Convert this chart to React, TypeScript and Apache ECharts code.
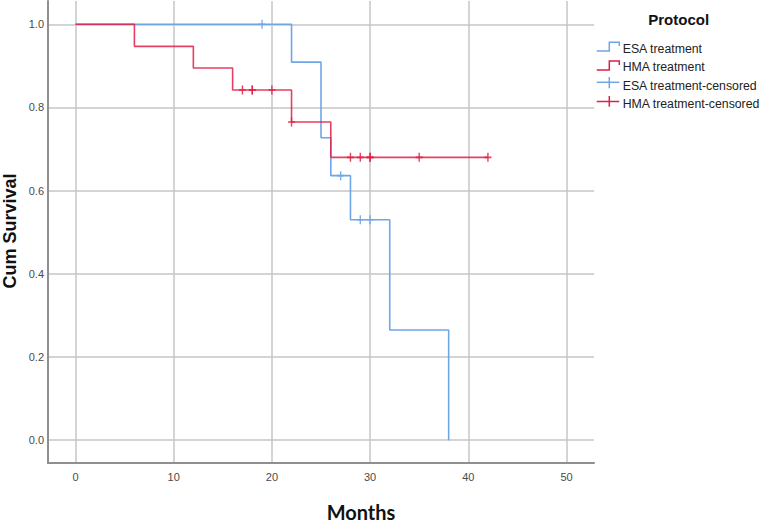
import React, { useEffect, useRef } from "react";
import * as echarts from "echarts";

// Kaplan-Meier step points [months, cumulative survival]
const esaSteps: [number, number][] = [
  [0, 1.0], [22, 0.909], [25, 0.727], [26, 0.636], [28, 0.53], [32, 0.265], [38, 0.0],
];
const hmaSteps: [number, number][] = [
  [0, 1.0], [6, 0.947], [12, 0.895], [16, 0.842], [22, 0.765], [26, 0.68], [42, 0.68],
];
// censored observations
const esaCensored: [number, number][] = [
  [19, 1.0], [27, 0.636], [29, 0.53], [30, 0.53],
];
const hmaCensored: [number, number][] = [
  [17, 0.842], [18, 0.842], [18, 0.842], [20, 0.842], [22, 0.765],
  [28, 0.68], [29, 0.68], [30, 0.68], [30, 0.68], [35, 0.68], [42, 0.68],
];
const legendLabels = [
  "ESA treatment",
  "HMA treatment",
  "ESA treatment-censored",
  "HMA treatment-censored",
];
const legendTitle = "Protocol";
const xTitle = "Months";
const yTitle = "Cum Survival";

const BLUE = "#6ea6e8";
const RED = "#e01e48";
const CROSS = "path://M3.2,0H4.8V9H3.2ZM0,3.7H8V5.3H0Z";

export default function App() {
  const ref = useRef<HTMLDivElement>(null);
  useEffect(() => {
    if (!ref.current) return;
    const chart = echarts.init(ref.current, undefined, { renderer: "svg" });
    const rowsY = [48.8, 67.2, 85.5, 103.8];
    const option: any = {
      animation: false,
      backgroundColor: "#ffffff",
      grid: { left: 48, right: 168, top: 1, bottom: 61 },
      xAxis: {
        type: "value",
        min: -2.8,
        max: 52.8,
        splitNumber: 5,
        axisLine: { show: true, onZero: false, lineStyle: { color: "#8f8f8f", width: 2 } },
        axisTick: { show: false },
        axisLabel: {
          showMinLabel: false,
          showMaxLabel: false,
          color: "#4a4a4a",
          fontFamily: "Liberation Sans",
          fontSize: 11,
          margin: 8,
        },
        splitLine: {
          show: true,
          showMinLine: false,
          showMaxLine: false,
          lineStyle: { color: "#c6c6c6", width: 1.5 },
        },
      },
      yAxis: {
        type: "value",
        min: -0.055,
        max: 1.056,
        splitNumber: 5,
        axisLine: { show: true, onZero: false, lineStyle: { color: "#8f8f8f", width: 2 } },
        axisTick: { show: false },
        axisLabel: {
          showMinLabel: false,
          showMaxLabel: false,
          color: "#4a4a4a",
          fontFamily: "Liberation Sans",
          fontSize: 11,
          margin: 4,
          formatter: (v: number) => v.toFixed(1),
        },
        splitLine: {
          show: true,
          showMinLine: false,
          showMaxLine: false,
          lineStyle: { color: "#c6c6c6", width: 1.5 },
        },
      },
      series: [
        {
          name: legendLabels[0],
          type: "line",
          step: "end",
          data: esaSteps,
          showSymbol: false,
          lineStyle: { color: BLUE, width: 1.6 },
          itemStyle: { color: BLUE },
          z: 3,
        },
        {
          name: legendLabels[1],
          type: "line",
          step: "end",
          data: hmaSteps,
          showSymbol: false,
          lineStyle: { color: RED, width: 1.6, opacity: 0.85 },
          itemStyle: { color: RED },
          z: 4,
        },
        {
          name: legendLabels[2],
          type: "scatter",
          data: esaCensored,
          symbol: CROSS,
          symbolSize: [7, 9],
          itemStyle: { color: BLUE, opacity: 0.9 },
          z: 5,
        },
        {
          name: legendLabels[3],
          type: "scatter",
          data: hmaCensored,
          symbol: CROSS,
          symbolSize: [7, 9],
          itemStyle: { color: RED, opacity: 0.85 },
          z: 6,
        },
      ],
      graphic: [
        {
          type: "text",
          x: 678.7,
          y: 19.5,
          style: {
            text: legendTitle,
            font: "bold 15px 'Liberation Sans'",
            fill: "#111",
            align: "center",
            verticalAlign: "middle",
          },
        },
        {
          type: "polyline",
          shape: { points: [[596.7, 51], [609.3, 51], [609.3, 42.3], [619.3, 42.3], [619.3, 46]] },
          style: { stroke: BLUE, lineWidth: 1.5, fill: "none" },
        },
        {
          type: "polyline",
          shape: { points: [[596.7, 70], [609.3, 70], [609.3, 61], [619.3, 61], [619.3, 65]] },
          style: { stroke: RED, lineWidth: 1.5, fill: "none" },
        },
        {
          type: "line",
          shape: { x1: 596.7, y1: 82.3, x2: 619.3, y2: 82.3 },
          style: { stroke: BLUE, lineWidth: 1.5 },
        },
        {
          type: "line",
          shape: { x1: 609.3, y1: 77, x2: 609.3, y2: 88.3 },
          style: { stroke: BLUE, lineWidth: 1.5 },
        },
        {
          type: "line",
          shape: { x1: 596.7, y1: 101.5, x2: 619.3, y2: 101.5 },
          style: { stroke: RED, lineWidth: 1.5 },
        },
        {
          type: "line",
          shape: { x1: 609.3, y1: 96, x2: 609.3, y2: 106.7 },
          style: { stroke: RED, lineWidth: 1.5 },
        },
        ...legendLabels.map((t, i) => ({
          type: "text",
          x: 622.7,
          y: rowsY[i],
          style: {
            text: t,
            font: "12.3px 'Liberation Sans'",
            fill: "#222",
            align: "left",
            verticalAlign: "middle",
          },
        })),
        {
          type: "text",
          x: 9.5,
          y: 231,
          rotation: Math.PI / 2,
          style: {
            text: yTitle,
            font: "bold 18px 'Liberation Sans'",
            fill: "#111",
            align: "center",
            verticalAlign: "middle",
          },
        },
        {
          type: "text",
          x: 361,
          y: 512,
          style: {
            text: xTitle,
            font: "bold 20px Lato",
            fill: "#111",
            align: "center",
            verticalAlign: "middle",
          },
        },
      ],
    };
    chart.setOption(option);
    return () => chart.dispose();
  }, []);
  return (
    <div
      ref={ref}
      style={{ position: "fixed", left: 0, top: 0, width: 762, height: 524 }}
    />
  );
}
